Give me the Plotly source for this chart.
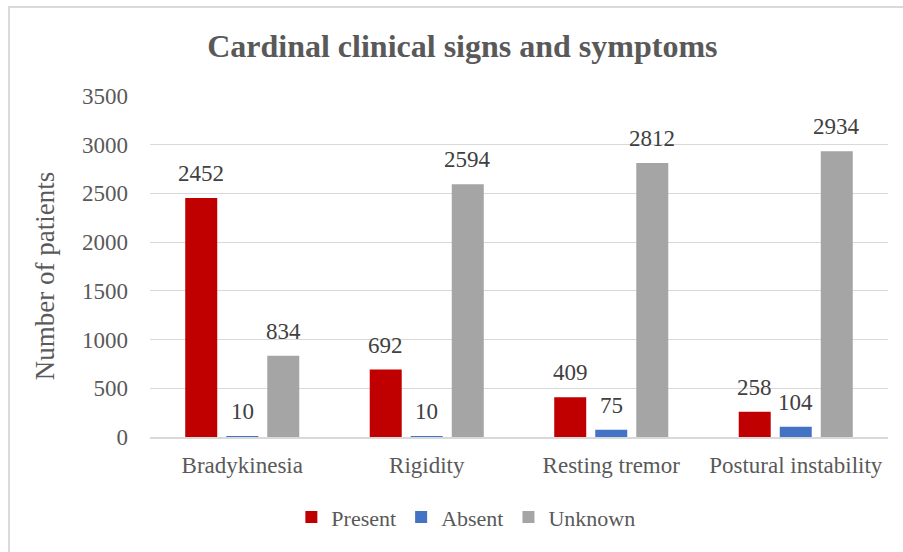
import plotly.graph_objects as go

categories = ["Bradykinesia", "Rigidity", "Resting tremor", "Postural instability"]
present = [2452, 692, 409, 258]
absent = [10, 10, 75, 104]
unknown = [834, 2594, 2812, 2934]
series_names = ["Present", "Absent", "Unknown"]
colors = ["#C00000", "#4472C4", "#A5A5A5"]
y_ticks = [0, 500, 1000, 1500, 2000, 2500, 3000, 3500]

FONT = "Liberation Serif, Times New Roman, serif"
W, H = 903, 552
ML, MR, MT, MB = 150, 15, 96, 115
BARGAP = 0.333

fig = go.Figure()
all_series = [present, absent, unknown]
for name, vals, col in zip(series_names, all_series, colors):
    fig.add_trace(go.Bar(
        x=categories, y=vals, name=name,
        marker=dict(color=col, line=dict(width=0)),
    ))

# data labels placed above each bar
cat_w = (W - ML - MR) / len(categories)
slot = cat_w * (1 - BARGAP) / len(series_names)
for si, vals in enumerate(all_series):
    for cat, v in zip(categories, vals):
        fig.add_annotation(x=cat, y=v, text=str(v), showarrow=False,
                           xshift=(si - 1) * slot, yshift=10, yanchor="bottom",
                           font=dict(family=FONT, size=23, color="#404040"))

# y-axis title
fig.add_annotation(text="Number of patients", xref="paper", yref="paper",
                   x=-0.142, y=0.472, textangle=-90, showarrow=False,
                   xanchor="center", yanchor="middle",
                   font=dict(family=FONT, size=27, color="#595959"))

fig.update_layout(
    width=W, height=H,
    margin=dict(l=ML, r=MR, t=MT, b=MB),
    paper_bgcolor="white", plot_bgcolor="white",
    barmode="group", bargap=BARGAP, bargroupgap=0.22,
    title=dict(text="<b>Cardinal clinical signs and symptoms</b>",
               x=0.512, xanchor="center", y=0.917, yanchor="middle",
               font=dict(family=FONT, size=32, color="#595959")),
    font=dict(family=FONT, color="#595959"),
    legend=dict(orientation="h", x=0.428, xanchor="center", y=-0.235, yanchor="middle",
                font=dict(family=FONT, size=22, color="#595959"),
                itemwidth=30, traceorder="normal"),
)
fig.update_yaxes(range=[0, 3500], tickvals=y_ticks, showgrid=True, gridcolor="#D9D9D9",
                 gridwidth=1, zeroline=False, showline=False,
                 tickfont=dict(family=FONT, size=23, color="#595959"),
                 ticks="", ticklabelstandoff=21)
fig.update_xaxes(showline=True, linecolor="#D9D9D9", linewidth=2, showgrid=False,
                 tickfont=dict(family=FONT, size=23, color="#595959"), ticks="",
                 ticklabelstandoff=6)
fig.add_shape(type="rect", xref="paper", yref="paper",
              x0=-0.191, x1=1.2, y0=-0.6, y1=1.261,
              line=dict(color="#D9D9D9", width=2), fillcolor="rgba(0,0,0,0)", layer="below")

fig.write_html("out.html", config={"displayModeBar": False},
               post_script="document.body.style.margin='0';document.body.style.overflow='hidden';")
